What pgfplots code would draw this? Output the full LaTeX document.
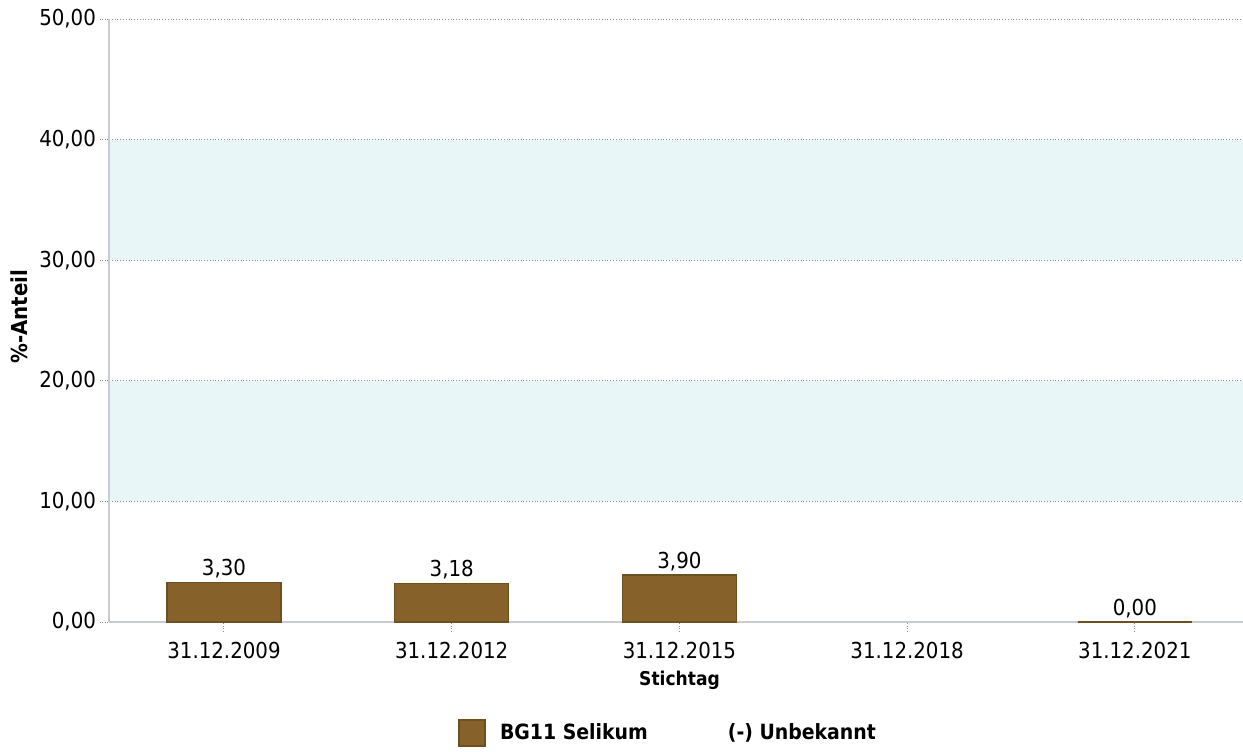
\documentclass[border=0pt]{standalone}
\usepackage{fontspec}
\setmainfont{DejaVu Sans Condensed}
\usepackage{pgfplots}
\pgfplotsset{compat=1.18}
\definecolor{barfill}{HTML}{86622A}
\definecolor{bardraw}{HTML}{6E5020}
\definecolor{bandcol}{HTML}{E8F6F7}
\definecolor{axisgray}{HTML}{C8CCD0}
\definecolor{gridgray}{HTML}{8C8C8C}
\pgfkeys{/pgf/number format/.cd, use comma, fixed, fixed zerofill, precision=2, 1000 sep={}, assume math mode=true}
\begin{document}
\begin{tikzpicture}
\begin{axis}[
  set layers=standard,
  scale only axis, width=567pt, height=301.5pt,
  xmin=-0.505, xmax=4.475, ymin=0, ymax=50,
  ytick={0,10,20,30,40,50},
  xtick={0,1,2,3,4},
  xticklabels={31.12.2009,31.12.2012,31.12.2015,31.12.2018,31.12.2021},
  axis x line*=bottom, axis y line*=left,
  axis line style={draw=axisgray, line width=0.8pt},
  ymajorgrids, grid style={densely dotted, gridgray, line width=0.5pt},
  tick align=outside, major tick length=4.5pt,
  tick style={densely dotted, gridgray, line width=0.5pt},
  ticklabel style={font=\fontsize{11}{13}\selectfont},
  xticklabel style={yshift=-2pt},
  yticklabel style={xshift=1.5pt},
  xlabel={Stichtag}, ylabel={\%-Anteil},
  xlabel style={at={(axis description cs:0.5031,-0.0962)}, anchor=center, font=\bfseries\fontsize{9.5}{11}\selectfont},
  ylabel style={at={(axis description cs:-0.0795,0.5066)}, anchor=center, font=\bfseries\fontsize{11}{13}\selectfont},
  legend style={at={(axis description cs:0.494,-0.184)}, anchor=center, draw=none, fill=none,
    font=\bfseries\fontsize{10.5}{12}\selectfont, /tikz/every even column/.append style={column sep=36pt}},
  legend columns=-1,
]
\begin{pgfonlayer}{axis background}
\fill[bandcol] (axis cs:-0.505,10) rectangle (axis cs:4.475,20);
\fill[bandcol] (axis cs:-0.505,30) rectangle (axis cs:4.475,40);
\end{pgfonlayer}
\addplot[ybar, bar width=57pt, fill=barfill, draw=bardraw, line width=0.6pt,
  nodes near coords, every node near coord/.append style={font=\fontsize{11}{13}\selectfont, text=black, yshift=-1.5pt},
  legend image code/.code={\draw[fill=barfill, draw=bardraw] (0pt,-6.5pt) rectangle (13pt,6.5pt); \path[draw=none,fill=none] (0pt,0pt) -- (18.5pt,0pt);}]
  coordinates {(0,3.30) (1,3.18) (2,3.90) (4,0)};
\addlegendentry{BG11 Selikum}
\addlegendimage{empty legend}
\addlegendentry{(-) Unbekannt}
\end{axis}
\pgfresetboundingbox
\useasboundingbox (-54.5pt,-64.5pt) rectangle (567pt,311pt);
\end{tikzpicture}
\end{document}
